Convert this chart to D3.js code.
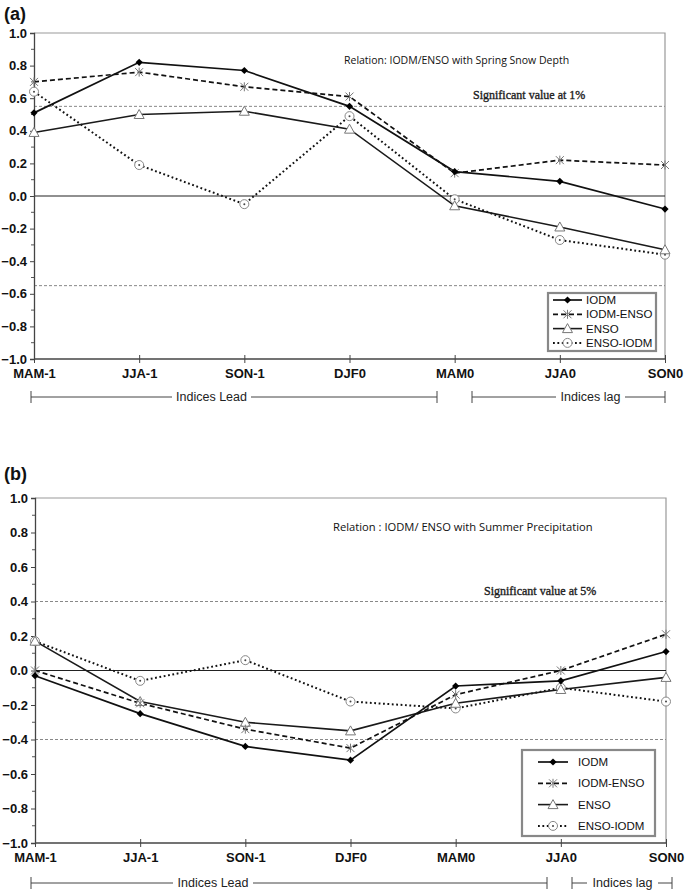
<!DOCTYPE html>
<html>
<head>
<meta charset="utf-8">
<script src="https://cdn.jsdelivr.net/npm/d3@7"></script>
<style>
  html, body { margin: 0; padding: 0; background: #fff; }
  svg { display: block; }
</style>
</head>
<body>
<svg id="chart" width="685" height="894"></svg>
<script>
// ---------- data ----------
const categories = ["MAM-1", "JJA-1", "SON-1", "DJF0", "MAM0", "JJA0", "SON0"];
const yTickValues = [-1.0, -0.8, -0.6, -0.4, -0.2, 0.0, 0.2, 0.4, 0.6, 0.8, 1.0];
const seriesNames = ["IODM", "IODM-ENSO", "ENSO", "ENSO-IODM"];

// Panel (a): relation with spring snow depth
const aIODM      = [0.51, 0.82, 0.77, 0.55, 0.15, 0.09, -0.08];
const aIODM_ENSO = [0.70, 0.76, 0.67, 0.61, 0.14, 0.22, 0.19];
const aENSO      = [0.39, 0.50, 0.52, 0.41, -0.06, -0.19, -0.33];
const aENSO_IODM = [0.64, 0.19, -0.05, 0.49, -0.02, -0.27, -0.36];
const aSignificance = 0.55;

// Panel (b): relation with summer precipitation
const bIODM      = [-0.03, -0.25, -0.44, -0.52, -0.09, -0.06, 0.11];
const bIODM_ENSO = [0.00, -0.19, -0.34, -0.45, -0.14, 0.00, 0.21];
const bENSO      = [0.17, -0.18, -0.30, -0.35, -0.19, -0.11, -0.04];
const bENSO_IODM = [0.17, -0.06, 0.06, -0.18, -0.22, -0.10, -0.18];
const bSignificance = 0.40;

// ---------- drawing ----------
const svg = d3.select("#chart");
const axisFont = "Liberation Sans, Arial, sans-serif";

const styles = {
  "IODM":      { dash: null,  width: 1.7, color: "#111", marker: "diamond" },
  "IODM-ENSO": { dash: "5,3", width: 1.7, color: "#111", marker: "asterisk" },
  "ENSO":      { dash: null,  width: 1.6, color: "#1a1a1a", marker: "triangle" },
  "ENSO-IODM": { dash: "1.8,2.6", width: 2.0, color: "#111", marker: "circle" }
};

function drawMarker(g, type, x, y) {
  const m = g.append("g").attr("transform", `translate(${x},${y})`);
  if (type === "diamond") {
    m.append("path").attr("d", "M0,-3.6L3.6,0L0,3.6L-3.6,0Z").attr("fill", "#000");
  } else if (type === "asterisk") {
    m.append("path").attr("d", "M-4,-4L4,4M-4,4L4,-4M0,-4.5L0,4.5")
      .attr("stroke", "#777").attr("stroke-width", 1).attr("fill", "none");
  } else if (type === "triangle") {
    m.append("path").attr("d", "M0,-5L5,4L-5,4Z")
      .attr("stroke", "#777").attr("stroke-width", 1).attr("fill", "#fff");
  } else if (type === "circle") {
    m.append("circle").attr("r", 4.5).attr("stroke", "#888").attr("stroke-width", 1).attr("fill", "#fff");
    m.append("circle").attr("r", 1).attr("fill", "#444");
  }
}

function drawPanel(cfg) {
  const x = d3.scalePoint().domain(categories).range([cfg.x0, cfg.x1]);
  const y = d3.scaleLinear().domain([-1, 1]).range([cfg.yBottom, cfg.yTop]);
  const g = svg.append("g");

  // panel letter
  g.append("text").attr("x", 4).attr("y", cfg.letterY).text(cfg.letter)
    .attr("font-family", axisFont).attr("font-weight", "bold").attr("font-size", 18).attr("fill", "#111");

  // frame: top & right gray
  g.append("path")
    .attr("d", `M${cfg.x0},${y(1)}H${cfg.x1}V${y(-1)}`)
    .attr("fill", "none").attr("stroke", "#999").attr("stroke-width", 1.2);

  // significance lines
  [cfg.sig, -cfg.sig].forEach(v => {
    g.append("line").attr("x1", cfg.x0).attr("x2", cfg.x1).attr("y1", y(v)).attr("y2", y(v))
      .attr("stroke", "#888").attr("stroke-width", 1).attr("stroke-dasharray", "3,2");
  });
  // zero line
  g.append("line").attr("x1", cfg.x0).attr("x2", cfg.x1).attr("y1", y(0)).attr("y2", y(0))
    .attr("stroke", "#222").attr("stroke-width", 1.1);

  // y minor ticks
  const minor = d3.range(-0.9, 1.0, 0.2);
  g.append("g").selectAll("line").data(minor).join("line")
    .attr("x1", cfg.x0 - 3).attr("x2", cfg.x0).attr("y1", d => y(d)).attr("y2", d => y(d))
    .attr("stroke", "#555");

  // y axis
  const yAxis = g.append("g").attr("transform", `translate(${cfg.x0},0)`)
    .call(d3.axisLeft(y).tickValues(yTickValues).tickFormat(d3.format(".1f")).tickSize(4).tickPadding(3));
  yAxis.select(".domain").attr("stroke", "#444").attr("stroke-width", 1.3);
  yAxis.selectAll(".tick line").attr("stroke", "#444");
  yAxis.selectAll("text").attr("font-family", axisFont).attr("font-weight", "bold")
    .attr("font-size", 13).attr("fill", "#111");

  // x axis
  const xAxis = g.append("g").attr("transform", `translate(0,${y(-1)})`)
    .call(d3.axisBottom(x).tickSize(4).tickPadding(6));
  xAxis.select(".domain").attr("stroke", "#444").attr("stroke-width", 1.3).attr("d", `M${cfg.x0},0H${cfg.x1}`);
  xAxis.selectAll(".tick line").attr("stroke", "#444").attr("y1", -4);
  xAxis.selectAll("text").attr("font-family", axisFont).attr("font-weight", "bold")
    .attr("font-size", 13).attr("fill", "#111");

  // annotations
  g.append("text").attr("x", cfg.relX).attr("y", cfg.relY).text(cfg.relation)
    .attr("font-family", "Open Sans, Liberation Sans, sans-serif").attr("font-size", cfg.relSize).attr("fill", "#111");
  g.append("text").attr("x", cfg.sigX).attr("y", y(cfg.sig) - 7).text(cfg.sigLabel)
    .attr("font-family", "Liberation Serif, Times New Roman, serif").attr("font-size", 12)
    .attr("fill", "#222").attr("stroke", "#222").attr("stroke-width", 0.35);

  // series
  const data = cfg.series;
  const order = ["ENSO-IODM", "ENSO", "IODM-ENSO", "IODM"];
  const line = d3.line().x((d, i) => x(categories[i])).y(d => y(d));
  order.forEach(name => {
    const st = styles[name];
    g.append("path").datum(data[name]).attr("d", line)
      .attr("fill", "none").attr("stroke", st.color).attr("stroke-width", st.width)
      .attr("stroke-dasharray", st.dash);
  });
  order.forEach(name => {
    const st = styles[name];
    data[name].forEach((v, i) => drawMarker(g, st.marker, x(categories[i]), y(v)));
  });

  // legend
  const L = cfg.legend;
  g.append("rect").attr("x", L.x).attr("y", L.y).attr("width", L.w).attr("height", L.h)
    .attr("fill", "#fff").attr("stroke", "#888").attr("stroke-width", 2.2);
  seriesNames.forEach((name, i) => {
    const st = styles[name];
    const yy = L.rowY0 + i * L.rowStep;
    g.append("line").attr("x1", L.lx0).attr("x2", L.lx1).attr("y1", yy).attr("y2", yy)
      .attr("stroke", st.color).attr("stroke-width", st.width).attr("stroke-dasharray", st.dash);
    drawMarker(g, st.marker, (L.lx0 + L.lx1) / 2, yy);
    g.append("text").attr("x", L.tx).attr("y", yy).attr("dy", "0.35em").text(name)
      .attr("font-family", axisFont).attr("font-size", 11.5).attr("fill", "#111");
  });

  // lead / lag brackets
  const B = cfg.bracket;
  const by = B.y;
  const bg = g.append("g").attr("stroke", "#444").attr("stroke-width", 1).attr("fill", "none");
  // lead
  bg.append("line").attr("x1", B.leadX0).attr("x2", B.leadTextX0 - 2).attr("y1", by).attr("y2", by);
  bg.append("line").attr("x1", B.leadTextX1 + 2).attr("x2", B.leadX1).attr("y1", by).attr("y2", by);
  bg.append("line").attr("x1", B.leadX0).attr("x2", B.leadX0).attr("y1", by - 6).attr("y2", by + 6);
  bg.append("line").attr("x1", B.leadX1).attr("x2", B.leadX1).attr("y1", by - 6).attr("y2", by + 6);
  // lag
  bg.append("line").attr("x1", B.lagX0).attr("x2", B.lagTextX0 - 2).attr("y1", by).attr("y2", by);
  bg.append("line").attr("x1", B.lagTextX1 + 2).attr("x2", B.lagX1).attr("y1", by).attr("y2", by);
  bg.append("line").attr("x1", B.lagX0).attr("x2", B.lagX0).attr("y1", by - 6).attr("y2", by + 6);
  bg.append("line").attr("x1", B.lagX1).attr("x2", B.lagX1).attr("y1", by - 6).attr("y2", by + 6);
  g.append("text").attr("x", (B.leadTextX0 + B.leadTextX1) / 2).attr("y", by).attr("dy", "0.35em")
    .attr("text-anchor", "middle").text("Indices Lead")
    .attr("font-family", axisFont).attr("font-size", 12.5).attr("fill", "#222");
  g.append("text").attr("x", (B.lagTextX0 + B.lagTextX1) / 2).attr("y", by).attr("dy", "0.35em")
    .attr("text-anchor", "middle").text("Indices lag")
    .attr("font-family", axisFont).attr("font-size", 12.5).attr("fill", "#222");
}

drawPanel({
  letter: "(a)", letterY: 20,
  x0: 34, x1: 665, yTop: 33, yBottom: 359,
  sig: aSignificance, sigLabel: "Significant value at 1%", sigX: 473,
  relation: "Relation: IODM/ENSO with Spring Snow Depth", relX: 344, relY: 64, relSize: 10.5,
  series: { "IODM": aIODM, "IODM-ENSO": aIODM_ENSO, "ENSO": aENSO, "ENSO-IODM": aENSO_IODM },
  legend: { x: 548, y: 293, w: 108, h: 58, rowY0: 300, rowStep: 14.3, lx0: 553, lx1: 582, tx: 586 },
  bracket: { y: 397, leadX0: 31, leadX1: 437, leadTextX0: 174, leadTextX1: 249,
             lagX0: 472, lagX1: 665, lagTextX0: 558, lagTextX1: 623 }
});

drawPanel({
  letter: "(b)", letterY: 480,
  x0: 35, x1: 666, yTop: 498, yBottom: 843,
  sig: bSignificance, sigLabel: "Significant value at 5%", sigX: 484,
  relation: "Relation : IODM/ ENSO  with Summer Precipitation", relX: 333, relY: 531, relSize: 11.2,
  series: { "IODM": bIODM, "IODM-ENSO": bIODM_ENSO, "ENSO": bENSO, "ENSO-IODM": bENSO_IODM },
  legend: { x: 522, y: 750, w: 133, h: 86, rowY0: 762, rowStep: 21.3, lx0: 538, lx1: 568, tx: 578 },
  bracket: { y: 883, leadX0: 31, leadX1: 547, leadTextX0: 175, leadTextX1: 251,
             lagX0: 572, lagX1: 672, lagTextX0: 589, lagTextX1: 656 }
});
</script>
</body>
</html>
